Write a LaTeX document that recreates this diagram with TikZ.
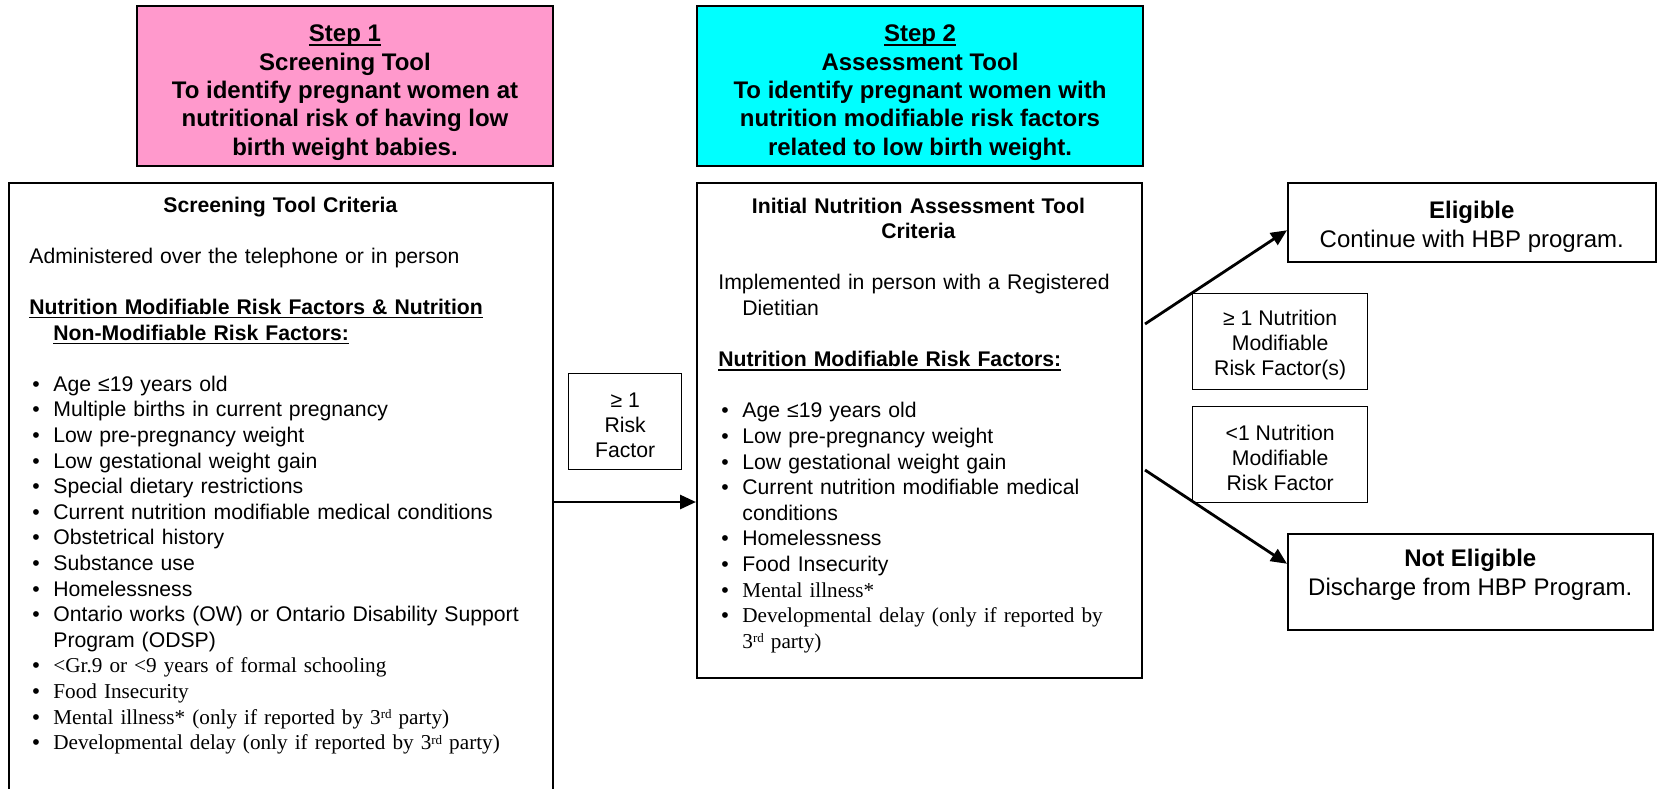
\documentclass[tikz,border=0pt]{standalone}
\usepackage{fontspec}
\setmainfont{Liberation Sans}
\newfontfamily\serifpart{Liberation Serif}
\usetikzlibrary{arrows.meta,positioning}
\definecolor{steponepink}{HTML}{FF99CC}
\definecolor{steptwocyan}{HTML}{00FFFF}
\newcommand{\bul}{\hspace*{1.5pt}\makebox[10.5pt][l]{\textbullet}}
\newcommand{\hang}{\hspace*{12pt}}
\newcommand{\ulbar}[1]{\leavevmode\setbox0\hbox{#1}\rlap{\rule[-2pt]{\wd0}{0.75pt}}\box0}
\newcommand{\supord}[1]{\raisebox{2.8pt}{\fontsize{6.5}{7}\selectfont #1}}

\begin{document}
\begin{tikzpicture}[x=0.5pt, y=-0.5pt]

\tikzset{frame/.style={draw, line width=1pt, inner sep=0pt, anchor=north west}}
\tikzset{headbox/.style={frame, align=center, font=\fontsize{12}{14.15}\selectfont\bfseries}}
\tikzset{smallbox/.style={frame, line width=0.65pt, align=center, font=\fontsize{10.6}{12.5}\selectfont}}
\tikzset{resultbox/.style={frame, line width=0.75pt, align=center, font=\fontsize{12}{14.5}\selectfont}}
\tikzset{listtext/.style={inner sep=0pt, anchor=base west, align=left, font=\fontsize{10.6}{12.8}\selectfont}}
\tikzset{flow/.style={-{Triangle[length=8pt,width=7pt]}, line width=1.4pt}}

\useasboundingbox (0,0) rectangle (1658,788);
\clip (0,0) rectangle (1658,788);

% step headers
\node[headbox, fill=steponepink, minimum width=208pt, minimum height=80pt] (stepone) at (136,5)
  {\rule{0pt}{15pt}\ulbar{Step 1}\\Screening Tool\\To identify pregnant women at\\nutritional risk of having low\\birth weight babies.};
\node[headbox, fill=steptwocyan, minimum width=223pt, minimum height=80pt] (steptwo) at (696,5)
  {\rule{0pt}{15pt}\ulbar{Step 2}\\Assessment Tool\\To identify pregnant women with\\nutrition modifiable risk factors\\related to low birth weight.};

% screening criteria
\node[frame, minimum width=272pt, minimum height=310pt] (screencrit) at (8,182) {};
\node[listtext, text width=251pt] (screentext) at (29,212) {%
\makebox[251pt]{\bfseries Screening Tool Criteria}\\[12.8pt]
Administered over the telephone or in person\\[12.8pt]
{\bfseries\ulbar{Nutrition Modifiable Risk Factors \& Nutrition}}\\
\hang{\bfseries\ulbar{Non-Modifiable Risk Factors:}}\\[12.8pt]
\bul Age ≤19 years old\\
\bul Multiple births in current pregnancy\\
\bul Low pre-pregnancy weight\\
\bul Low gestational weight gain\\
\bul Special dietary restrictions\\
\bul Current nutrition modifiable medical conditions\\
\bul Obstetrical history\\
\bul Substance use\\
\bul Homelessness\\
\bul Ontario works (OW) or Ontario Disability Support\\
\hang Program (ODSP)\\
\bul{\serifpart <Gr.9 or <9 years of formal schooling}\\
\bul{\serifpart Food Insecurity}\\
\bul{\serifpart Mental illness* (only if reported by 3\supord{rd} party)}\\
\bul{\serifpart Developmental delay (only if reported by 3\supord{rd} party)}};

% assessment criteria
\node[frame, minimum width=222.5pt, minimum height=247.5pt] (assesscrit) at (696,182) {};
\node[listtext, text width=200pt] (assesstext) at (718,213) {%
\makebox[200pt]{\bfseries Initial Nutrition Assessment Tool}\\
\makebox[200pt]{\bfseries Criteria}\\[12.8pt]
Implemented in person with a Registered\\
\hang Dietitian\\[12.8pt]
{\bfseries\ulbar{Nutrition Modifiable Risk Factors:}}\\[12.8pt]
\bul Age ≤19 years old\\
\bul Low pre-pregnancy weight\\
\bul Low gestational weight gain\\
\bul Current nutrition modifiable medical\\
\hang conditions\\
\bul Homelessness\\
\bul Food Insecurity\\
\bul{\serifpart Mental illness*}\\
\bul{\serifpart Developmental delay (only if reported by}\\
\hang{\serifpart 3\supord{rd} party)}};

% decision labels
\node[smallbox, minimum width=56.5pt, minimum height=48pt] (onerisk) at (568,373) {\rule{0pt}{10.6pt}≥ 1\\Risk\\Factor};
\node[smallbox, minimum width=87.5pt, minimum height=48pt] (morerisk) at (1192,293) {\rule{0pt}{10.6pt}≥ 1 Nutrition\\Modifiable\\Risk Factor(s)};
\node[smallbox, minimum width=87.5pt, minimum height=48pt] (lessrisk) at (1192,406) {\rule{0pt}{10.6pt}<1 Nutrition\\Modifiable\\Risk Factor};

% outcomes
\node[resultbox, minimum width=184pt, minimum height=39.5pt] (eligible) at (1287,182) {\rule{0pt}{13pt}{\bfseries Eligible}\\Continue with HBP program.};
\node[resultbox, minimum width=182.5pt, minimum height=48pt] (noteligible) at (1287,533) {};
\node[align=center, font=\fontsize{12}{14.5}\selectfont] (noteligtext) at ([yshift=3.5pt]noteligible.center) {{\bfseries Not Eligible}\\Discharge from HBP Program.};

% connectors
\coordinate (riskrow) at (0,502);
\coordinate (upfrom) at (1145,324);
\coordinate (downfrom) at (1145,470);
\draw[flow] (screencrit.east |- riskrow) -- (assesscrit.west |- riskrow);
\draw[flow] (upfrom) -- ([yshift=-4pt]eligible.west);
\draw[flow] (downfrom) -- ([yshift=9pt]noteligible.west);
\end{tikzpicture}
\end{document}
